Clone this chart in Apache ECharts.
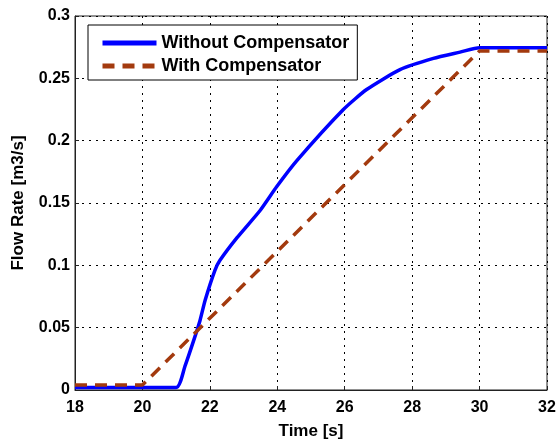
<!DOCTYPE html>
<html>
<head>
<meta charset="utf-8">
<script src="https://cdn.jsdelivr.net/npm/echarts@6/dist/echarts.min.js"></script>
<style>
  html, body { margin: 0; padding: 0; background: #fff; }
  #chart { width: 556px; height: 441px; }
</style>
</head>
<body>
<div id="chart"></div>
<script>
// Flow rate response, time in seconds
const seriesNames = ['Without Compensator', 'With Compensator'];

const withoutTime = [18, 21, 21.26, 21.56, 21.71, 21.86, 22.15, 22.3, 22.8, 23.49, 23.98, 24.58, 25.96, 26.65, 27.64, 28.63, 29.42, 30, 32];
const withoutFlow = [0.002, 0.002, 0.019, 0.043, 0.056, 0.072, 0.096, 0.104, 0.122, 0.144, 0.163, 0.184, 0.225, 0.241, 0.257, 0.266, 0.271, 0.2746, 0.2746];

const withTime = [18, 20, 30, 32];
const withFlow = [0.004, 0.004, 0.272, 0.272];

const xRange = { min: 18, max: 32, interval: 2 };
const yRange = { min: 0, max: 0.3, interval: 0.05 };

const pair = (xs, ys) => xs.map((x, i) => [x, ys[i]]);

const FONT = 'Liberation Sans';
const tickFont = { fontFamily: FONT, fontWeight: 'bold', fontSize: 16, color: '#000' };
const titleFont = { fontFamily: FONT, fontWeight: 'bold', fontSize: 17, color: '#000' };
const gridLine = { show: true, lineStyle: { color: '#000', type: [2, 5], width: 1 } };

const chart = echarts.init(document.getElementById('chart'), null, { renderer: 'canvas' });
chart.setOption({
  animation: false,
  backgroundColor: '#fff',
  grid: {
    left: 75, right: 9, top: 16, bottom: 51,
    outerBoundsMode: 'none', containLabel: false,
    show: true, borderColor: '#222', borderWidth: 1, backgroundColor: 'transparent'
  },
  legend: {
    orient: 'vertical',
    left: 88, top: 25,
    padding: [9, 8, 5, 12],
    itemGap: 5,
    itemWidth: 54, itemHeight: 18,
    backgroundColor: '#fff',
    borderColor: '#000', borderWidth: 1,
    itemStyle: { opacity: 0 },
    lineStyle: { width: 5 },
    textStyle: { fontFamily: FONT, fontWeight: 'bold', fontSize: 18, color: '#000' },
    data: seriesNames
  },
  xAxis: {
    type: 'value',
    min: xRange.min, max: xRange.max, interval: xRange.interval,
    name: 'Time [s]', nameLocation: 'middle', nameGap: 33,
    nameTextStyle: titleFont,
    axisLine: { show: true, lineStyle: { color: '#222', width: 1 } },
    axisTick: { show: true, inside: true, length: 4, lineStyle: { color: '#222' } },
    axisLabel: Object.assign({ margin: 10 }, tickFont),
    splitLine: gridLine
  },
  yAxis: {
    type: 'value',
    min: yRange.min, max: yRange.max, interval: yRange.interval,
    name: 'Flow Rate [m3/s]', nameLocation: 'middle', nameGap: 48,
    nameTextStyle: titleFont,
    axisLine: { show: true, lineStyle: { color: '#222', width: 1 } },
    axisTick: { show: true, inside: true, length: 4, lineStyle: { color: '#222' } },
    axisLabel: Object.assign({ margin: 5 }, tickFont),
    splitLine: gridLine
  },
  series: [
    {
      name: seriesNames[0], type: 'line', data: pair(withoutTime, withoutFlow),
      showSymbol: false, symbol: 'none', smooth: 0.2, z: 3,
      lineStyle: { color: '#0000ff', width: 3.5 },
      itemStyle: { color: '#0000ff' }
    },
    {
      name: seriesNames[1], type: 'line', data: pair(withTime, withFlow),
      showSymbol: false, symbol: 'none', z: 4,
      lineStyle: { color: '#a33a0e', width: 3.5, type: [12, 8] },
      itemStyle: { color: '#a33a0e' }
    }
  ]
});
</script>
</body>
</html>
